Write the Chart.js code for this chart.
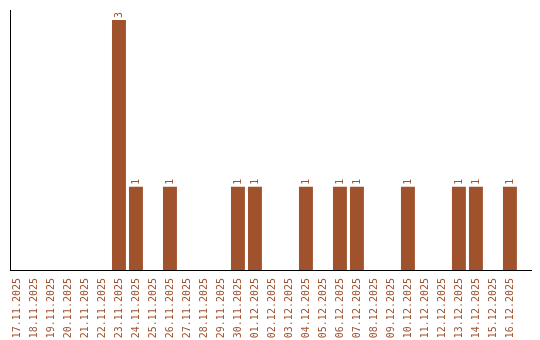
<!DOCTYPE html>
<html>
<head>
<meta charset="utf-8">
<script src="https://cdn.jsdelivr.net/npm/chart.js@4/dist/chart.umd.min.js"></script>
<style>
  body { margin: 0; background: #fff; }
</style>
</head>
<body>
<canvas id="chart" width="540" height="340"></canvas>
<script>
const dates = [
  '17.11.2025', '18.11.2025', '19.11.2025', '20.11.2025', '21.11.2025',
  '22.11.2025', '23.11.2025', '24.11.2025', '25.11.2025', '26.11.2025',
  '27.11.2025', '28.11.2025', '29.11.2025', '30.11.2025', '01.12.2025',
  '02.12.2025', '03.12.2025', '04.12.2025', '05.12.2025', '06.12.2025',
  '07.12.2025', '08.12.2025', '09.12.2025', '10.12.2025', '11.12.2025',
  '12.12.2025', '13.12.2025', '14.12.2025', '15.12.2025', '16.12.2025',
];
const counts = [
  0, 0, 0, 0, 0, 0, 3, 1, 0, 1,
  0, 0, 0, 1, 1, 0, 0, 1, 0, 1,
  1, 0, 0, 1, 0, 0, 1, 1, 0, 1,
];

const brown = '#a0522d';
const monoFont = { family: 'DejaVu Sans Mono', size: 10 };

// value labels drawn rotated above each bar
const valueLabels = {
  id: 'valueLabels',
  afterDatasetsDraw(chart) {
    const ctx = chart.ctx;
    const meta = chart.getDatasetMeta(0);
    ctx.save();
    ctx.fillStyle = brown;
    ctx.font = '10px "DejaVu Sans Mono"';
    ctx.textAlign = 'left';
    ctx.textBaseline = 'middle';
    meta.data.forEach((bar, i) => {
      if (!counts[i]) return;
      ctx.save();
      ctx.translate(bar.x, bar.y - 2);
      ctx.rotate(-Math.PI / 2);
      ctx.fillText(String(counts[i]), 0, 0);
      ctx.restore();
    });
    ctx.restore();
  },
};

new Chart(document.getElementById('chart'), {
  type: 'bar',
  data: {
    datasets: [
      {
        data: counts.map((c, i) => ({ x: i, y: c })),
        backgroundColor: brown,
        categoryPercentage: 1,
        barPercentage: 0.82,
      },
    ],
  },
  options: {
    responsive: false,
    animation: false,
    layout: { padding: { left: 10, top: 10, right: 9, bottom: 0 } },
    plugins: {
      legend: { display: false },
      tooltip: { enabled: false },
    },
    scales: {
      x: {
        type: 'linear',
        offset: false,
        min: -0.41,
        max: 30.24,
        grid: { display: false },
        border: { display: true, color: '#000', width: 1 },
        afterBuildTicks: (axis) => {
          axis.ticks = dates.map((d, i) => ({ value: i }));
        },
        afterFit: (axis) => {
          axis.height = 70;
          axis.paddingLeft = 0;
          axis.paddingRight = 0;
        },
        ticks: {
          autoSkip: false,
          maxRotation: 90,
          minRotation: 90,
          color: brown,
          font: monoFont,
          padding: 0,
          callback: (value) => dates[value],
        },
      },
      y: {
        min: 0,
        max: 3.12,
        grid: { display: false },
        border: { display: true, color: '#000', width: 1 },
        ticks: { display: false },
        afterFit: (axis) => {
          axis.width = 0;
        },
      },
    },
  },
  plugins: [valueLabels],
});
</script>
</body>
</html>
